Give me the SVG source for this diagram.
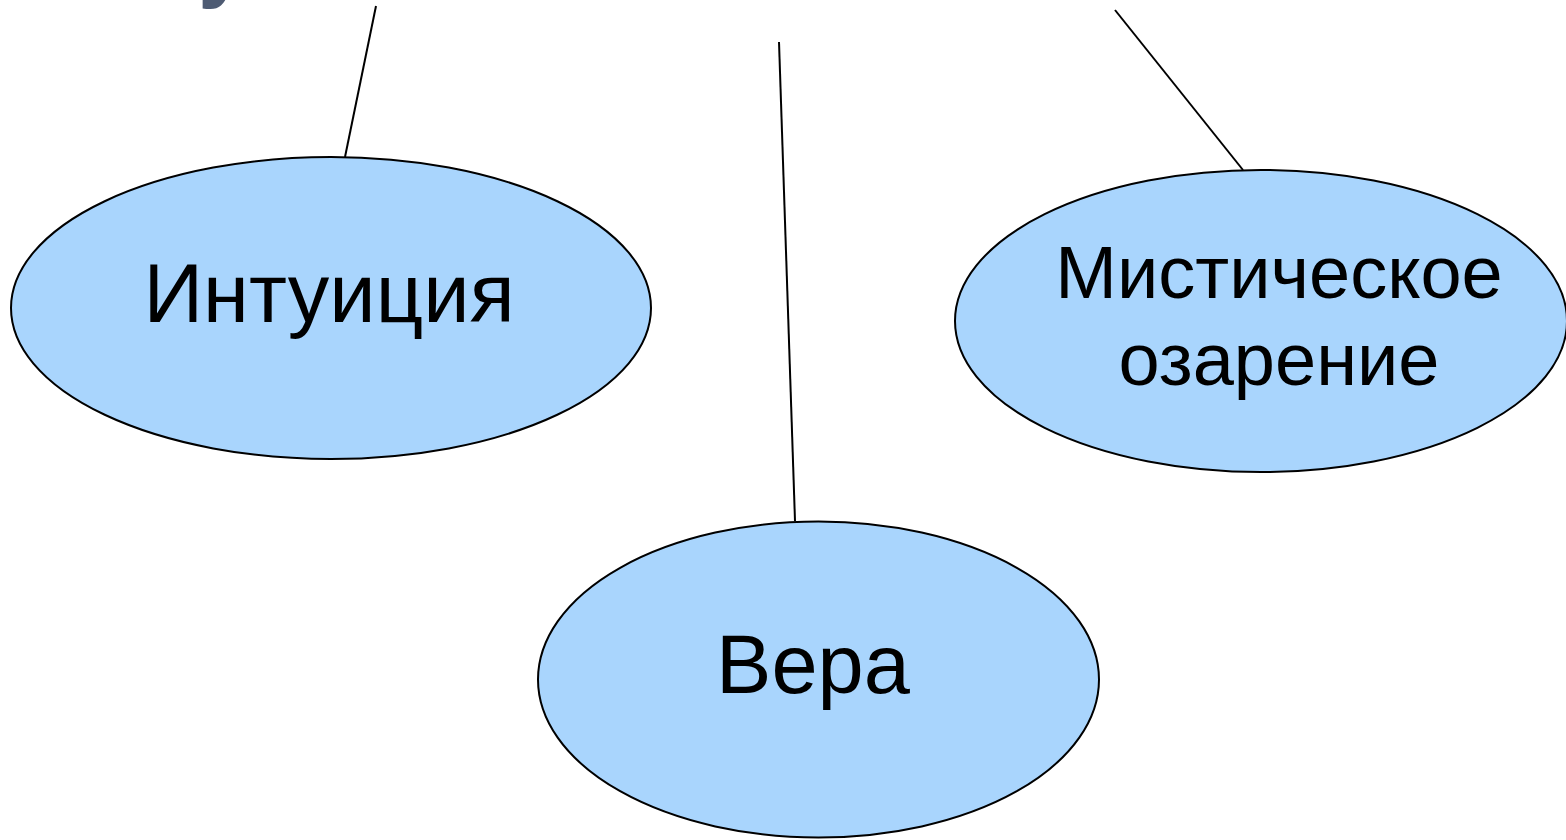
<svg xmlns="http://www.w3.org/2000/svg" width="1566" height="840" viewBox="0 0 1566 840">
<style>
.node{fill:#a9d5fd;stroke:#000;stroke-width:2}
.lbl{font-family:"Liberation Sans",Arial,sans-serif;font-size:83px;fill:#000;text-anchor:middle}
.lbl2{font-size:74px}
.conn{stroke:#000;stroke-width:2;fill:none}
</style>
<rect width="1566" height="840" fill="#fff"/>
<text x="223" y="-10" font-family="Liberation Sans,sans-serif" font-weight="bold" font-size="90" fill="#4e5b73" text-anchor="middle">у</text>
<g id="connectors">
<line class="conn" x1="376" y1="6" x2="345" y2="157"/>
<line class="conn" x1="779" y1="42" x2="795" y2="521"/>
<line class="conn" x1="1115" y1="10" x2="1243" y2="170"/>
</g>
<g id="intuition">
<ellipse class="node" cx="331" cy="308" rx="320" ry="151"/>
<text class="lbl" x="329" y="322">Интуиция</text>
</g>
<g id="mystic">
<ellipse class="node" cx="1261" cy="321" rx="306" ry="151"/>
<text class="lbl lbl2" x="1279" y="298">Мистическое</text>
<text class="lbl lbl2" x="1279" y="385">озарение</text>
</g>
<g id="faith">
<ellipse class="node" cx="818.5" cy="679.5" rx="280.5" ry="158"/>
<text class="lbl" x="813" y="693">Вера</text>
</g>
</svg>
